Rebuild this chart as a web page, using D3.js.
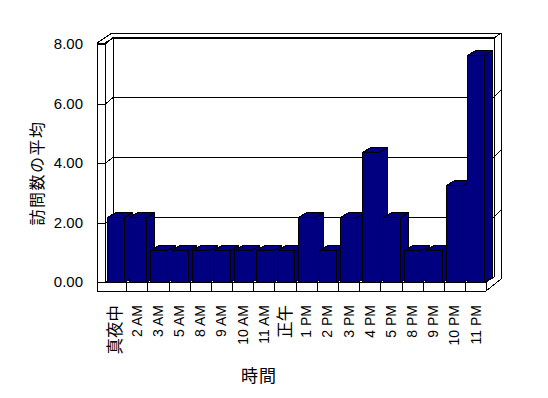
<!DOCTYPE html>
<html>
<head>
<meta charset="utf-8">
<script src="https://cdn.jsdelivr.net/npm/d3@7/dist/d3.min.js"></script>
<style>
  body { margin: 0; background: #fff; }
  text { font-family: "Liberation Sans", "Noto Sans CJK JP", sans-serif; fill: #000; }
</style>
</head>
<body>
<div id="chart"></div>
<script>
// data
var categories = ["真夜中", "2 AM", "3 AM", "5 AM", "8 AM", "9 AM", "10 AM", "11 AM", "正午",
                  "1 PM", "2 PM", "3 PM", "4 PM", "5 PM", "8 PM", "9 PM", "10 PM", "11 PM"];
var visits = [2.18, 2.18, 1.09, 1.09, 1.09, 1.09, 1.09, 1.09, 1.09,
              2.18, 1.09, 2.18, 4.36, 2.18, 1.09, 1.09, 3.27, 7.63];
var yTicks = [0, 2, 4, 6, 8];
var yTitle = "訪問数の平均";
var xTitle = "時間";

var W = 548, H = 398;
var svg = d3.select("#chart").append("svg")
    .attr("width", W).attr("height", H)
    .attr("shape-rendering", "crispEdges");

// front plane and back plane scales (3d depth offset)
var dx = 8, dy = -5;
var yFront = d3.scaleLinear().domain([0, 8]).range([282, 44]);
var yBack = d3.scaleLinear().domain([0, 8]).range([277, 37]);
var xCell = d3.scaleBand().domain(categories).range([105, 486.3]);
var xBar = d3.scaleBand().domain(categories).range([105, 486.3]).paddingInner(0.22).paddingOuter(0.11);

var backL = 113, backR = 494;

function line(x1, y1, x2, y2) {
  svg.append("line")
    .attr("x1", x1).attr("y1", y1).attr("x2", x2).attr("y2", y2)
    .attr("stroke", "#000").attr("stroke-width", 1);
}

// back wall outer rim
line(112, 33, 501, 33);
line(501, 33, 501, 279);
line(backR, 38, 501, 33);
// back wall inner
line(backL, 38, backR, 38);
line(backR, 38, backR, 277);
line(backL, 38, backL, 277);

// gridlines on back wall + right rim
yTicks.forEach(function(t) {
  line(backL, Math.round(yBack(t)) + 0.5, backR, Math.round(yBack(t)) + 0.5);
  if (t > 0 && t < 8) line(backR, Math.round(yBack(t)), 501, Math.round(yBack(t)) - 7);
});

// left wall
line(97, 43, 97, 291);
line(105, 43, 105, 282);
line(97, 43, 105, 43);
line(97, 43, 112, 33);
line(105, 43, backL, 38);
yTicks.forEach(function(t) {
  var yf = Math.round(yFront(t)) + 0.5, yb = Math.round(yBack(t)) + 0.5;
  line(97, yf, 105, yf);
  line(105, yf, backL, yb);
});

// floor
line(97, 291.5, 486, 291.5);
line(105, 282.5, 486, 282.5);
line(486.5, 282, 486.5, 291);
line(486, 282, backR, 277);
line(486, 291, 501, 279);
categories.forEach(function(c) {
  var xc = Math.round(xCell(c) + xCell.bandwidth()) + 0.5;
  if (c !== categories[categories.length - 1]) line(xc, 282, xc, 291);
});

// bars
var bw = xBar.bandwidth();
categories.forEach(function(c, i) {
  var x = Math.round(xBar(c)) + 0.5;
  var y0 = yFront(0) + 0.5;
  var yt = Math.round(yFront(visits[i])) + 0.5;
  var w = Math.round(bw);
  var g = svg.append("g").attr("fill", "#000080").attr("stroke", "#000").attr("stroke-width", 1);
  g.append("polygon").attr("points", [[x + w, yt], [x + w + dx, yt + dy], [x + w + dx, y0 + dy], [x + w, y0]].join(" "));
  g.append("polygon").attr("points", [[x, yt], [x + dx, yt + dy], [x + w + dx, yt + dy], [x + w, yt]].join(" "));
  g.append("rect").attr("x", x).attr("y", yt).attr("width", w).attr("height", y0 - yt);
});

// value labels
svg.append("g").selectAll("text").data(yTicks).enter().append("text")
    .attr("x", 83).attr("y", function(d) { return yFront(d); })
    .attr("dy", "0.35em")
    .attr("text-anchor", "end")
    .style("font-size", "15px")
    .text(function(d) { return d3.format(".2f")(d); });

// category labels (japanese ones drawn a bit larger, as in the original)
svg.append("g").selectAll("text").data(categories).enter().append("text")
    .attr("transform", function(d) { return "translate(" + (xCell(d) + xCell.bandwidth() / 2) + ",305) rotate(-90)"; })
    .attr("dy", "0.35em")
    .attr("text-anchor", "end")
    .style("font-size", function(d) { return /[A-Z0-9]/.test(d) ? "14px" : "16.5px"; })
    .text(function(d) { return d; });

// axis titles
svg.append("text")
    .attr("transform", "translate(37,173) rotate(-90)")
    .attr("dy", "0.35em")
    .attr("text-anchor", "middle")
    .style("font-size", "16px")
    .style("letter-spacing", "1.5px")
    .text(yTitle);

svg.append("text")
    .attr("x", 259).attr("y", 376)
    .attr("dy", "0.35em")
    .attr("text-anchor", "middle")
    .style("font-size", "17px")
    .style("letter-spacing", "1px")
    .text(xTitle);
</script>
</body>
</html>
